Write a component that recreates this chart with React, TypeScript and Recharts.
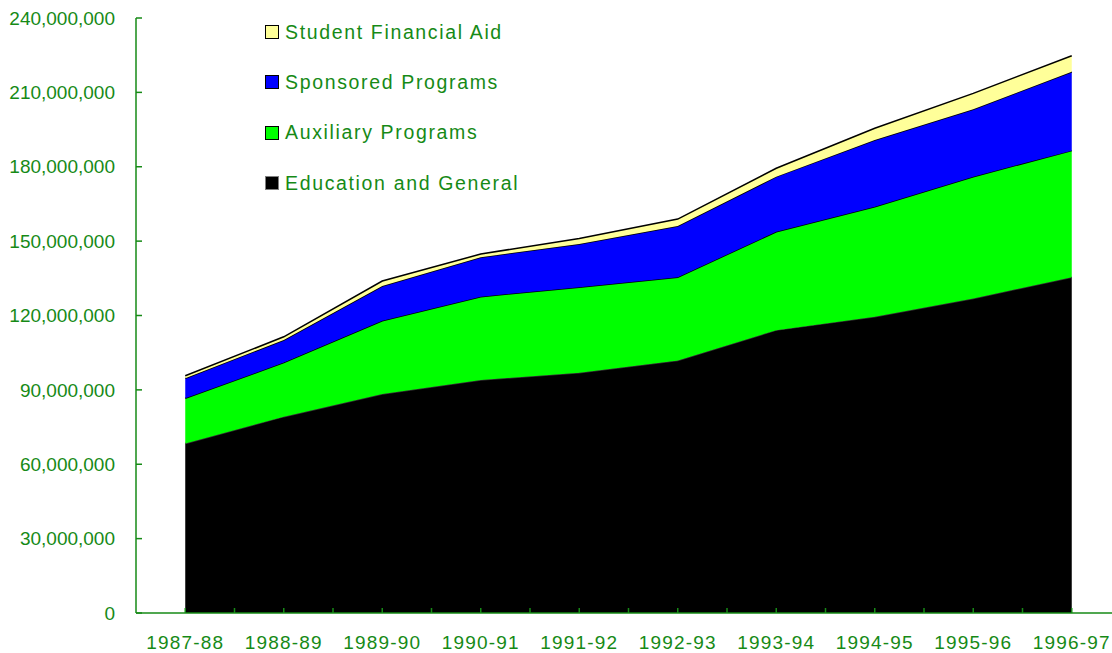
import React from "react";
import { AreaChart, Area, XAxis, YAxis, Legend } from "recharts";

const years = [
  "1987-88",
  "1988-89",
  "1989-90",
  "1990-91",
  "1991-92",
  "1992-93",
  "1993-94",
  "1994-95",
  "1995-96",
  "1996-97",
];

const educationGeneral = [
  68400000, 79200000, 88300000, 94000000, 96900000, 101800000, 114100000,
  119500000, 126900000, 135400000,
];
const auxiliaryPrograms = [
  18200000, 21800000, 29600000, 33600000, 34500000, 33600000, 39700000,
  44400000, 49100000, 51100000,
];
const sponsoredPrograms = [
  8100000, 9100000, 14000000, 15900000, 17400000, 20700000, 22200000,
  26900000, 27200000, 31800000,
];
const studentFinancialAid = [
  1000000, 1300000, 2000000, 1300000, 2300000, 2800000, 3400000, 4700000,
  6400000, 6500000,
];

const yTicks = [
  0, 30000000, 60000000, 90000000, 120000000, 150000000, 180000000, 210000000,
  240000000,
];

const GREEN_TEXT = "#168a16";
const FONT = '"Liberation Sans", Arial, sans-serif';

// bottom to top
const series = [
  { key: "edu", name: "Education and General", color: "#000000", border: "#808080" },
  { key: "aux", name: "Auxiliary Programs", color: "#00ff00", border: "#000000" },
  { key: "spon", name: "Sponsored Programs", color: "#0000ff", border: "#000000" },
  { key: "aid", name: "Student Financial Aid", color: "#ffff99", border: "#000000" },
];

const data = years.map((y, i) => ({
  idx: i,
  year: y,
  edu: educationGeneral[i],
  aux: auxiliaryPrograms[i],
  spon: sponsoredPrograms[i],
  aid: studentFinancialAid[i],
}));

// tick marks at each year and halfway between
const xTicks = years.flatMap((_, i) => (i < years.length - 1 ? [i, i + 0.5] : [i]));

function LegendBox() {
  const items = [...series].reverse();
  return (
    <div style={{ fontFamily: FONT }}>
      {items.map((s) => (
        <div
          key={s.key}
          style={{ display: "flex", alignItems: "center", height: 50.3 }}
        >
          <span
            style={{
              display: "inline-block",
              width: 12,
              height: 12,
              background: s.color,
              border: `1.5px solid ${s.border}`,
              marginRight: 6,
            }}
          />
          <span
            style={{
              color: GREEN_TEXT,
              fontSize: 19.5,
              letterSpacing: 1.65,
              whiteSpace: "nowrap",
            }}
          >
            {s.name}
          </span>
        </div>
      ))}
    </div>
  );
}

export default function App() {
  return (
    <div
      style={{
        position: "absolute",
        left: 0,
        top: 0,
        width: 1112,
        height: 653,
        overflow: "hidden",
        background: "#fff",
      }}
    >
      <AreaChart
        width={1130}
        height={653}
        data={data}
        margin={{ top: 18, right: 9, left: 0, bottom: 10 }}
      >
        <XAxis
          type="number"
          dataKey="idx"
          domain={[-0.5, 9.5]}
          ticks={xTicks}
          interval={0}
          height={30}
          stroke={GREEN_TEXT}
          strokeWidth={1.5}
          tickSize={-5}
          tickMargin={28}
          tickFormatter={(v: number) => (Number.isInteger(v) ? years[v] : "")}
          tick={{
            fill: GREEN_TEXT,
            fontSize: 19,
            fontFamily: FONT,
            letterSpacing: 1.2,
          }}
        />
        <YAxis
          width={136}
          domain={[0, 240000000]}
          ticks={yTicks}
          interval={0}
          stroke={GREEN_TEXT}
          strokeWidth={1.5}
          tickSize={-6}
          tickMargin={27}
          tickFormatter={(v: number) => v.toLocaleString("en-US")}
          tick={{ fill: GREEN_TEXT, fontSize: 19, fontFamily: FONT }}
        />
        <Legend
          layout="vertical"
          align="center"
          verticalAlign="middle"
          wrapperStyle={{ left: 265, top: 7, width: "auto", height: "auto" }}
          content={() => <LegendBox />}
        />
        {series.map((s) => (
          <Area
            key={s.key}
            type="linear"
            dataKey={s.key}
            name={s.name}
            stackId="1"
            stroke={s.key === "edu" ? "#333" : "#000"}
            strokeWidth={1.5}
            fill={s.color}
            fillOpacity={1}
            isAnimationActive={false}
          />
        ))}
      </AreaChart>
    </div>
  );
}
